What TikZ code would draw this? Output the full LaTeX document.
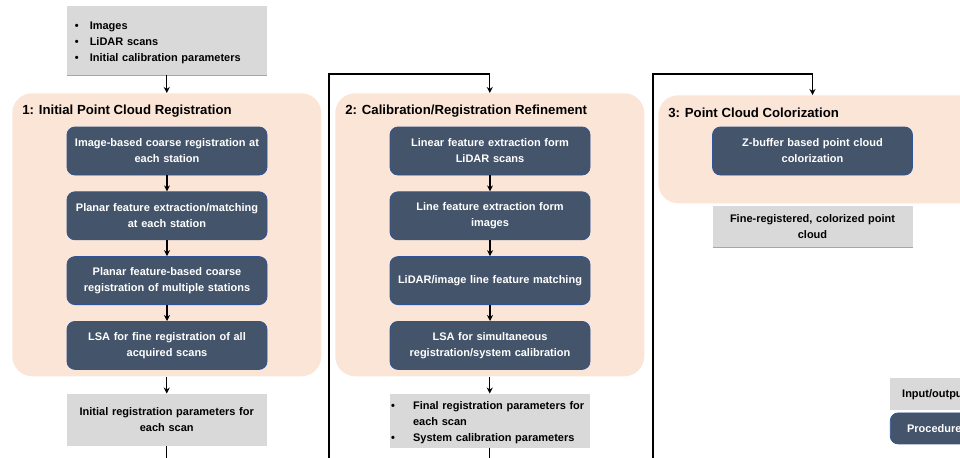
\documentclass[tikz,border=0pt]{standalone}
\usepackage{fontspec}
\setmainfont{Liberation Sans}
\usetikzlibrary{positioning}
\usetikzlibrary{arrows.meta,shadows}
\definecolor{stagebg}{HTML}{FBE5D6}
\definecolor{procbg}{HTML}{44546A}
\definecolor{procline}{HTML}{2F5597}
\definecolor{iobg}{HTML}{D9D9D9}
\newcommand{\bul}[1][11.25pt]{\par\noindent\hangindent=#1\hangafter=1\makebox[#1][l]{\textbullet}}
\begin{document}
\begin{tikzpicture}[x=0.75pt,y=-0.75pt,>={Stealth[length=4.5pt,width=4.5pt]},node distance=12pt,
    stage/.style={fill=stagebg,rounded corners=15pt,inner sep=0pt,anchor=north west},
    stitle/.style={anchor=west,inner sep=0pt,font=\bfseries\fontsize{9.9pt}{12pt}\selectfont},
    proc/.style={draw=procline,line width=0.6pt,fill=procbg,text=white,rounded corners=6pt,minimum width=150pt,minimum height=36pt,text width=142pt,align=center,inner sep=0pt,font=\bfseries\fontsize{8.25pt}{12pt}\selectfont},
    io/.style={fill=iobg,minimum width=150pt,text width=142pt,align=center,inner sep=0pt,font=\bfseries\fontsize{8.25pt}{12pt}\selectfont},
    shad/.style={drop shadow={shadow xshift=0.5pt,shadow yshift=-1pt,opacity=0.35,fill=black}},
    lnk/.style={line width=0.9pt,->}]
    \useasboundingbox (0,0) rectangle (960,457);
    \clip (0,0) rectangle (960,457);
    %
    \node[stage,minimum width=231.75pt,minimum height=212.25pt](s1) at (12,93){};
    \node[stitle](t1) at (22,111){1: Initial Point Cloud Registration};
    \node[proc](p1a) at (167,151){Image-based coarse registration at\\each station};
    \node[proc,below=of p1a](p1b){Planar feature extraction/matching\\at each station};
    \node[proc,below=of p1b](p1c){Planar feature-based coarse\\registration of multiple stations};
    \node[proc,below=of p1c](p1d){LSA for fine registration of all\\acquired scans};
    %
    \node[io,shad,above=13.5pt of s1,text width=138pt,align=left,minimum height=51.75pt](in){\bul Images \bul LiDAR scans \bul Initial calibration parameters\vspace{3pt}};
    \node[io,below=12.75pt of s1,minimum height=39pt](out1){Initial registration parameters for\\each scan};
    %
    \node[stage,minimum width=231.75pt,minimum height=212.25pt](s2) at (335,93){};
    \node[stitle](t2) at (345,111){2: Calibration/Registration Refinement};
    \node[proc](p2a) at (490,151){Linear feature extraction form\\LiDAR scans};
    \node[proc,below=of p2a](p2b){Line feature extraction form\\images};
    \node[proc,below=of p2b](p2c){LiDAR/image line feature matching};
    \node[proc,below=of p2c](p2d){LSA for simultaneous\\registration/system calibration};
    %
    \node[io,below=12.75pt of s2,text width=148pt,align=left,minimum height=39.75pt](out2){\bul[16.5pt]Final registration parameters for\newline each scan \bul[16.5pt]System calibration parameters\vspace{3pt}};
    %
    \node[stage,minimum width=264pt,minimum height=81pt](s3) at (658,95){};
    \node[stitle](t3) at (668,113){3: Point Cloud Colorization};
    \node[proc](p3) at (812.5,151){Z-buffer based point cloud\\colorization};
    \node[io,shad,below=22.5pt of p3,minimum height=30.75pt](out3){Fine-registered, colorized point\\cloud};
    %
    \node[io,anchor=north west,minimum width=66pt,text width=62pt,minimum height=24pt](lio) at (890,378){Input/output};
    \node[proc,below=1.5pt of lio,minimum width=66pt,text width=62pt,minimum height=23.25pt](lproc){Procedure};
    %
    \foreach \a/\b in {p1a/p1b,p1b/p1c,p1c/p1d,p2a/p2b,p2b/p2c,p2c/p2d}
        \draw[lnk] (\a) -- (\b);
    \draw[lnk] (in) -- (s1);
    \draw[lnk] (s1) -- (out1);
    \draw[lnk] (s2) -- (out2);
    %
    \coordinate(e1) at ([yshift=-15pt]out1.south);
    \coordinate(e2) at ([yshift=-15pt]out2.south);
    \draw[line width=0.9pt] (out1) -- (e1);
    \draw[line width=0.9pt] (out2) -- (e2);
    %
    \coordinate(top) at (0,74);
    \coordinate(f2) at (329,470);
    \coordinate(f3) at (653,470);
    \coordinate(k2) at (s2.north |- top);
    \coordinate(k3) at (p3.north |- top);
    \draw[lnk] (f2) |- (k2) -- (s2.north);
    \draw[lnk] (f3) |- (k3) -- (k3 |- s3.north);
\end{tikzpicture}
\end{document}
